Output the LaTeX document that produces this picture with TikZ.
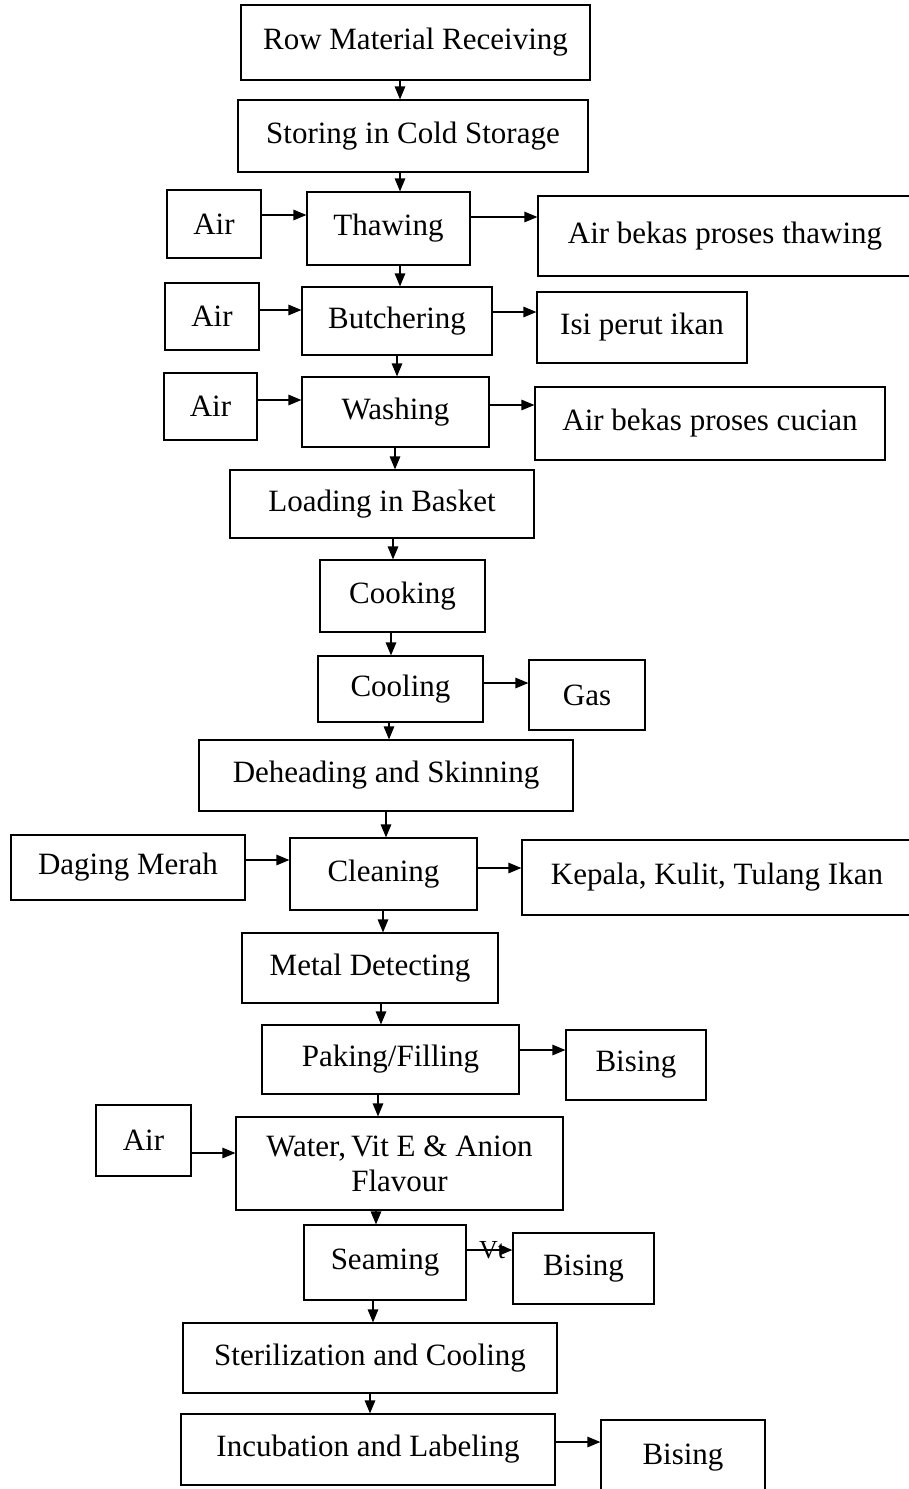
\documentclass[tikz,border=0pt]{standalone}
\usepackage{fontspec}
\setmainfont{Liberation Serif}
\usetikzlibrary{arrows.meta}

\tikzset{
  box/.style={draw=black, line width=1.2pt, fill=white, inner sep=0pt,
    font=\fontsize{31}{35}\selectfont, align=center, anchor=center},
  arr/.style={draw=black, line width=1.3pt, -{Triangle[length=13pt,width=10.5pt]}},
}

\begin{document}
\begin{tikzpicture}[x=1pt,y=-1pt]
\clip (0,0) rectangle (909,1489);
\fill[white] (0,0) rectangle (909,1489);

% main process column
\node[box, minimum width=349pt, minimum height=75pt] (rmr)   at (415.5,42.5)  {Row Material Receiving};
\node[box, minimum width=350pt, minimum height=72pt] (cold)  at (413,136)     {Storing in Cold Storage};
\node[box, minimum width=163pt, minimum height=73pt] (thaw)  at (388.5,228.5) {Thawing};
\node[box, minimum width=190pt, minimum height=68pt] (butch) at (397,321)     {Butchering};
\node[box, minimum width=187pt, minimum height=70pt] (wash)  at (395.5,412)   {Washing};
\node[box, minimum width=304pt, minimum height=68pt] (load)  at (382,504)     {Loading in Basket};
\node[box, minimum width=165pt, minimum height=72pt] (cook)  at (402.5,596)   {Cooking};
\node[box, minimum width=165pt, minimum height=66pt] (cool)  at (400.5,689)   {Cooling};
\node[box, minimum width=374pt, minimum height=71pt] (dehead) at (386,775.5)  {Deheading and Skinning};
\node[box, minimum width=187pt, minimum height=72pt] (clean) at (383.5,874)   {Cleaning};
\node[box, minimum width=256pt, minimum height=70pt] (metal) at (370,968)     {Metal Detecting};
\node[box, minimum width=257pt, minimum height=69pt] (paking) at (390.5,1059.5) {Paking/Filling};
\node[box, minimum width=327pt, minimum height=93pt] (water) at (399.5,1163.5) {Water,\,Vit E \& Anion\\Flavour};
\node[box, minimum width=162pt, minimum height=75pt] (seam)  at (385,1262.5)  {Seaming};
\node[box, minimum width=374pt, minimum height=70pt] (steril) at (370,1358)   {Sterilization and Cooling};
\node[box, minimum width=374pt, minimum height=71pt] (incub) at (368,1449.5)  {Incubation and Labeling};

% inputs on the left
\node[box, minimum width=94pt, minimum height=68pt]  (air1)  at (214,224)     {Air};
\node[box, minimum width=94pt, minimum height=67pt]  (air2)  at (212,316.5)   {Air};
\node[box, minimum width=93pt, minimum height=67pt]  (air3)  at (210.5,406.5) {Air};
\node[box, minimum width=234pt, minimum height=65pt] (daging) at (128,867.5)  {Daging Merah};
\node[box, minimum width=95pt, minimum height=71pt]  (air4)  at (143.5,1140.5) {Air};

% outputs on the right
\node[box, minimum width=374pt, minimum height=80pt] (waste1) at (725,236)    {Air bekas proses thawing};
\node[box, minimum width=210pt, minimum height=71pt] (isi)    at (642,327.5)  {Isi perut ikan};
\node[box, minimum width=350pt, minimum height=73pt] (waste2) at (710,423.5)  {Air bekas proses cucian};
\node[box, minimum width=116pt, minimum height=70pt] (gas)    at (587,695)    {Gas};
\node[box, minimum width=390pt, minimum height=75pt] (kepala) at (717,877.5)  {Kepala, Kulit, Tulang Ikan};
\node[box, minimum width=140pt, minimum height=70pt] (bis1)   at (636,1065)   {Bising};
\node[box, minimum width=141pt, minimum height=71pt] (bis2)   at (583.5,1268.5) {Bising};
\node[box, minimum width=164pt, minimum height=75pt] (bis3)   at (683,1457.5) {Bising};

% vertical flow
\draw[arr] (400,0 |- rmr.south)    -- (400,0 |- cold.north);
\draw[arr] (400,0 |- cold.south)   -- (400,0 |- thaw.north);
\draw[arr] (400,0 |- thaw.south)   -- (400,0 |- butch.north);
\draw[arr] (397,0 |- butch.south)  -- (397,0 |- wash.north);
\draw[arr] (395,0 |- wash.south)   -- (395,0 |- load.north);
\draw[arr] (393,0 |- load.south)   -- (393,0 |- cook.north);
\draw[arr] (391,0 |- cook.south)   -- (391,0 |- cool.north);
\draw[arr] (389,0 |- cool.south)   -- (389,0 |- dehead.north);
\draw[arr] (386,0 |- dehead.south) -- (386,0 |- clean.north);
\draw[arr] (383,0 |- clean.south)  -- (383,0 |- metal.north);
\draw[arr] (381,0 |- metal.south)  -- (381,0 |- paking.north);
\draw[arr] (378,0 |- paking.south) -- (378,0 |- water.north);
\draw[arr] (376,0 |- water.south)  -- (376,0 |- seam.north);
\draw[arr] (373,0 |- seam.south)   -- (373,0 |- steril.north);
\draw[arr] (370,0 |- steril.south) -- (370,0 |- incub.north);

% side inputs
\draw[arr] (air1.east |- 0,215)    -- (thaw.west |- 0,215);
\draw[arr] (air2.east |- 0,310)    -- (butch.west |- 0,310);
\draw[arr] (air3.east |- 0,400)    -- (wash.west |- 0,400);
\draw[arr] (daging.east |- 0,860)  -- (clean.west |- 0,860);
\draw[arr] (air4.east |- 0,1153)   -- (water.west |- 0,1153);

% side outputs
\draw[arr] (thaw.east |- 0,217)    -- (waste1.west |- 0,217);
\draw[arr] (butch.east |- 0,312)   -- (isi.west |- 0,312);
\draw[arr] (wash.east |- 0,405)    -- (waste2.west |- 0,405);
\draw[arr] (cool.east |- 0,683)    -- (gas.west |- 0,683);
\draw[arr] (clean.east |- 0,868)   -- (kepala.west |- 0,868);
\draw[arr] (paking.east |- 0,1050) -- (bis1.west |- 0,1050);
\draw[arr] (seam.east |- 0,1250)   -- (bis2.west |- 0,1250);
\draw[arr] (incub.east |- 0,1442)  -- (bis3.west |- 0,1442);

\node[font=\fontsize{26}{30}\selectfont, inner sep=0pt] (vt) at (492,1250) {Vt};
\end{tikzpicture}
\end{document}
